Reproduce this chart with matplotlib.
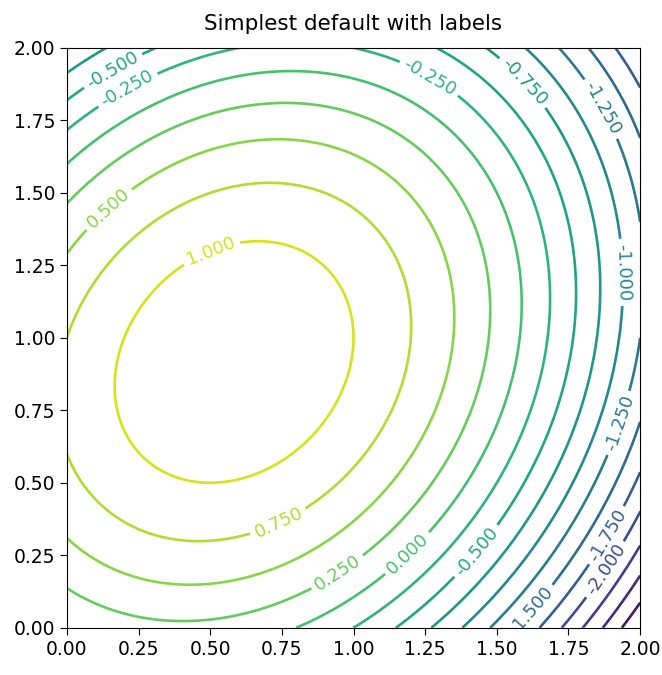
import numpy as np
import matplotlib
matplotlib.use("Agg")
import matplotlib.pyplot as plt
from matplotlib.ticker import FormatStrFormatter

# grid and quadratic surface:
# z = cx*x + cy*y + cxx*x^2 + cyy*y^2 + cxy*x*y
x_vals = np.linspace(0.0, 2.0, 201)
y_vals = np.linspace(0.0, 2.0, 201)
coef_x = 1.0
coef_y = 2.0
coef_xx = -1.25
coef_yy = -1.25
coef_xy = 0.5

levels = [-3.0, -2.75, -2.5, -2.25, -2.0, -1.75, -1.5, -1.25, -1.0,
          -0.75, -0.5, -0.25, 0.0, 0.25, 0.5, 0.75, 1.0, 1.25]
ticks = [0.0, 0.25, 0.5, 0.75, 1.0, 1.25, 1.5, 1.75, 2.0]

# where the inline labels sit in the reference
label_spots = [(0.15, 1.94), (0.21, 1.86), (0.135, 1.456), (0.50, 1.306),
               (1.27, 1.906), (1.594, 1.883), (1.865, 1.79), (1.946, 1.226),
               (1.923, 0.707), (0.74, 0.36), (0.954, 0.176), (1.20, 0.244),
               (1.415, 0.275), (1.60, 0.075), (1.871, 0.326), (1.865, 0.21)]

plt.rcParams['font.family'] = ['DejaVu Sans']

X, Y = np.meshgrid(x_vals, y_vals)
Z = coef_x * X + coef_y * Y + coef_xx * X**2 + coef_yy * Y**2 + coef_xy * X * Y

fig = plt.figure(figsize=(6.62, 6.75), dpi=100)
ax = fig.add_axes([0.101, 0.070, 0.866, 0.859])

CS = ax.contour(X, Y, Z, levels=levels, cmap='viridis', linewidths=1.9)
ax.clabel(CS, inline=True, fontsize=13, manual=label_spots, fmt='%1.3f')

ax.set_title('Simplest default with labels', fontsize=15.5, pad=13)
ax.set_xticks(ticks)
ax.set_yticks(ticks)
ax.xaxis.set_major_formatter(FormatStrFormatter('%.2f'))
ax.yaxis.set_major_formatter(FormatStrFormatter('%.2f'))
ax.tick_params(labelsize=13.5, length=5)

fig.savefig('out.png', dpi=100)
